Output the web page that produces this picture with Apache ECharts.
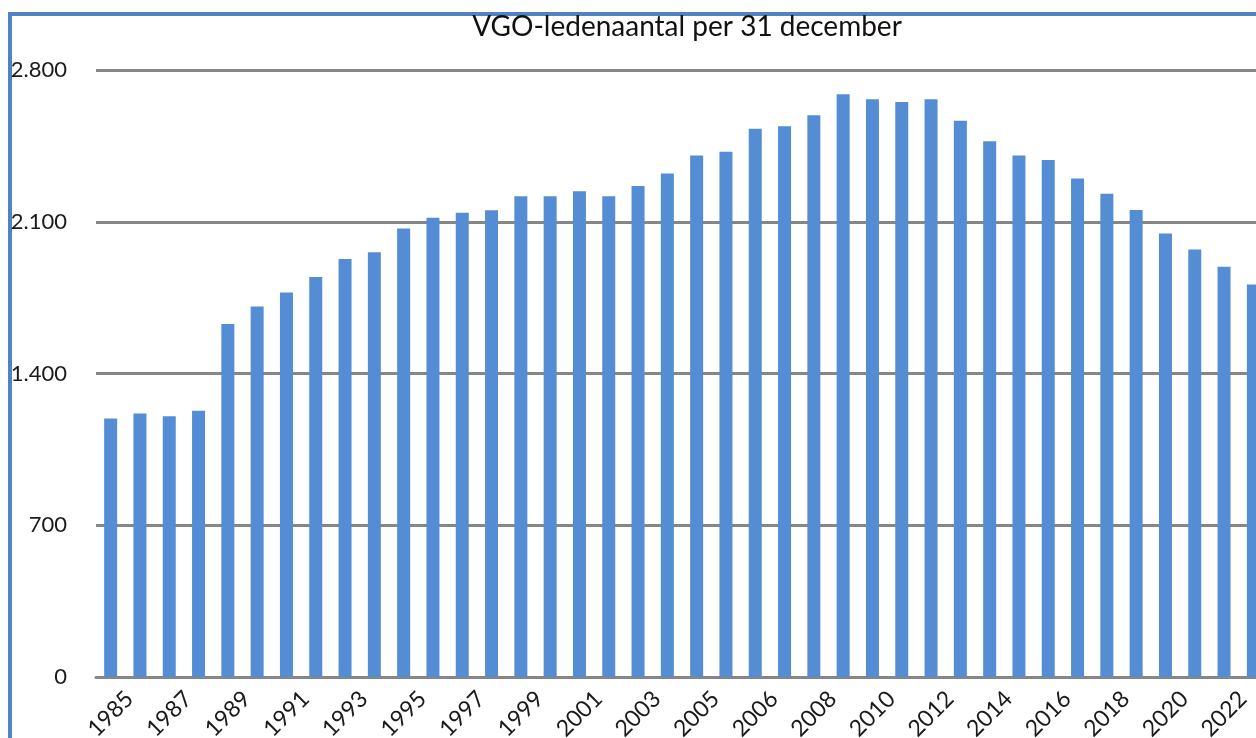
<!DOCTYPE html>
<html>
<head>
<meta charset="utf-8">
<title>VGO-ledenaantal</title>
<script src="https://cdn.jsdelivr.net/npm/echarts@6/dist/echarts.min.js"></script>
<style>
  html, body { margin: 0; padding: 0; background: #fff; }
  #chart { width: 1256px; height: 738px; }
</style>
</head>
<body>
<div id="chart"></div>
<script>
// jaren (tussen 2005 en 2006 staat in de bron een extra kolom)
const years = ['1985', '1986', '1987', '1988', '1989', '1990', '1991', '1992', '1993', '1994',
  '1995', '1996', '1997', '1998', '1999', '2000', '2001', '2002', '2003', '2004',
  '2005', '2005*', '2006', '2007', '2008', '2009', '2010', '2011', '2012', '2013',
  '2014', '2015', '2016', '2017', '2018', '2019', '2020', '2021', '2022', '2023']

const members = [1192, 1216, 1203, 1228, 1628, 1709, 1774, 1845, 1928, 1959,
  2069, 2118, 2141, 2153, 2218, 2218, 2241, 2218, 2265, 2323,
  2406, 2423, 2529, 2541, 2591, 2688, 2665, 2652, 2665, 2566,
  2471, 2406, 2385, 2300, 2229, 2154, 2046, 1972, 1892, 1811]

const yTicks = [0, 700, 1400, 2100, 2800]

const chart = echarts.init(document.getElementById('chart'))

chart.setOption({
  animation: false,
  textStyle: { fontFamily: 'Lato' },
  title: {
    text: 'VGO-ledenaantal per 31 december',
    left: 682,
    top: 8,
    textAlign: 'center',
    textStyle: { fontSize: 28, fontWeight: 'normal', color: '#111', fontFamily: 'Lato' }
  },
  graphic: [{
    type: 'rect',
    z: 0,
    shape: { x: 10, y: 14, width: 1400, height: 900 },
    style: { fill: 'none', stroke: '#4f83c6', lineWidth: 4 }
  }],
  grid: { left: 96, top: 70, width: 1172, height: 607, outerBoundsMode: 'none', containLabel: false },
  xAxis: {
    type: 'category',
    data: years,
    axisTick: { show: false },
    axisLine: { lineStyle: { color: '#868686', width: 3 } },
    axisLabel: {
      interval: 1,
      rotate: 45,
      align: 'center',
      verticalAlign: 'middle',
      margin: 37,
      fontSize: 23,
      color: '#1a1a1a'
    }
  },
  yAxis: {
    type: 'value',
    min: yTicks[0],
    max: yTicks[yTicks.length - 1],
    interval: 700,
    axisLine: { show: false },
    axisTick: { show: false },
    splitLine: { lineStyle: { color: '#868686', width: 3 } },
    axisLabel: {
      margin: 29,
      fontSize: 22,
      color: '#1a1a1a',
      formatter: v => v.toLocaleString('nl-NL')
    }
  },
  series: [{
    type: 'bar',
    data: members,
    barWidth: 13,
    itemStyle: { color: '#548dd4' }
  }]
})
</script>
</body>
</html>
